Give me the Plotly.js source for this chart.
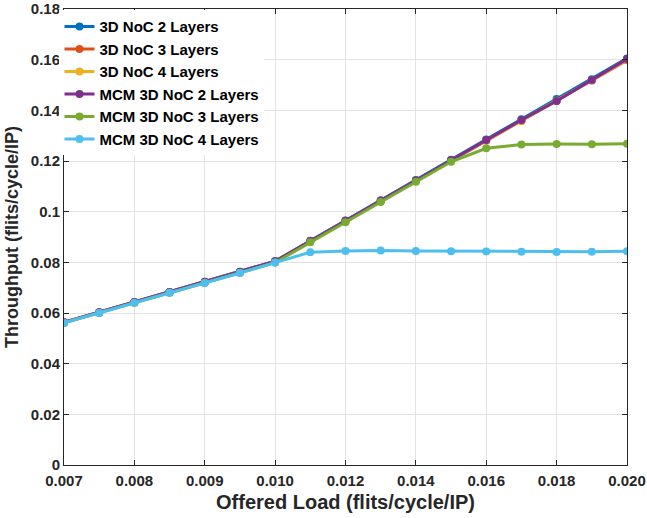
<!DOCTYPE html>
<html>
<head>
<meta charset="utf-8">
<script src="https://cdn.plot.ly/plotly-3.0.1.min.js"></script>
<style>html,body{margin:0;padding:0;background:#fff;}#chart{width:647px;height:518px;}</style>
</head>
<body>
<div id="chart"></div>
<script>
const offeredLoad = ['0.007','0.0075','0.008','0.0085','0.009','0.0095','0.010','0.011','0.012','0.013','0.014','0.015','0.016','0.017','0.018','0.019','0.020'];
const tickLabels = ['0.007','0.008','0.009','0.010','0.012','0.014','0.016','0.018','0.020'];
const noc2 = [0.0563,0.0603,0.0643,0.0683,0.0723,0.0763,0.0805,0.0885,0.0965,0.1045,0.1125,0.1205,0.1285,0.1365,0.1445,0.1523,0.1605];
const noc3 = [0.0562,0.0602,0.0642,0.0682,0.0722,0.0762,0.0803,0.0883,0.0962,0.1042,0.1122,0.1202,0.1281,0.1358,0.1437,0.1518,0.1598];
const noc4 = [0.0562,0.0602,0.0642,0.0682,0.0722,0.0762,0.0803,0.0883,0.0963,0.1043,0.1122,0.1201,0.1281,0.1359,0.1438,0.1519,0.1600];
const mcm2 = [0.0563,0.0603,0.0643,0.0683,0.0723,0.0763,0.0804,0.0884,0.0964,0.1043,0.1123,0.1203,0.1283,0.1362,0.1437,0.1520,0.1603];
const mcm3 = [0.0561,0.0600,0.0640,0.0680,0.0719,0.0759,0.0799,0.0879,0.0958,0.1038,0.1118,0.1197,0.1250,0.1265,0.1267,0.1266,0.1268];
const mcm4 = [0.0561,0.0600,0.0640,0.0680,0.0718,0.0758,0.0799,0.0840,0.0845,0.0847,0.0845,0.0844,0.0843,0.0842,0.0841,0.0842,0.0844];
const names = ['3D NoC 2 Layers','3D NoC 3 Layers','3D NoC 4 Layers','MCM 3D NoC 2 Layers','MCM 3D NoC 3 Layers','MCM 3D NoC 4 Layers'];
const series = [noc2, noc3, noc4, mcm2, mcm3, mcm4];
const colors = ['#0072BD','#D95319','#EDB120','#7E2F8E','#77AC30','#4DBEEE'];

const traces = series.map((ys, i) => ({
  x: offeredLoad, y: ys, name: names[i], type: 'scatter', mode: 'lines+markers',
  line: {color: colors[i], width: 3},
  marker: {color: colors[i], size: 8}
}));

const fontFam = 'Liberation Sans, Arial, sans-serif';
const layout = {
  width: 647, height: 518,
  margin: {l: 64, r: 20, t: 9, b: 53},
  paper_bgcolor: '#fff', plot_bgcolor: '#fff',
  font: {family: fontFam, size: 15, color: '#262626', weight: 'bold'},
  showlegend: true,
  legend: {x: -0.008, y: 0.997, xanchor: 'left', yanchor: 'top', bgcolor: '#fff',
    font: {family: fontFam, size: 15, color: '#000', weight: 'bold'},
    itemwidth: 30, tracegroupgap: 0},
  xaxis: {
    type: 'category', range: [0, 16],
    tickmode: 'array', tickvals: tickLabels, ticktext: tickLabels,
    showgrid: true, gridcolor: '#e3e3e3', gridwidth: 1,
    showline: true, linecolor: '#262626', linewidth: 1, mirror: 'ticks',
    ticks: 'inside', ticklen: 5, tickcolor: '#262626',
    zeroline: false, ticklabelstandoff: 2,
    tickfont: {family: fontFam, size: 15, color: '#262626', weight: 'bold'},
    title: {text: 'Offered Load (flits/cycle/IP)', standoff: 6, font: {family: fontFam, size: 20, color: '#262626', weight: 'bold'}}
  },
  yaxis: {
    range: [0, 0.18], dtick: 0.02, tick0: 0,
    showgrid: true, gridcolor: '#e3e3e3', gridwidth: 1,
    showline: true, linecolor: '#262626', linewidth: 1, mirror: 'ticks',
    ticks: 'inside', ticklen: 5, tickcolor: '#262626',
    zeroline: false,
    tickfont: {family: fontFam, size: 15, color: '#262626', weight: 'bold'},
    title: {text: 'Throughput (flits/cycle/IP)', standoff: 7, font: {family: fontFam, size: 18, color: '#262626', weight: 'bold'}}
  }
};
Plotly.newPlot('chart', traces, layout, {displayModeBar: false, staticPlot: true});
</script>
</body>
</html>
